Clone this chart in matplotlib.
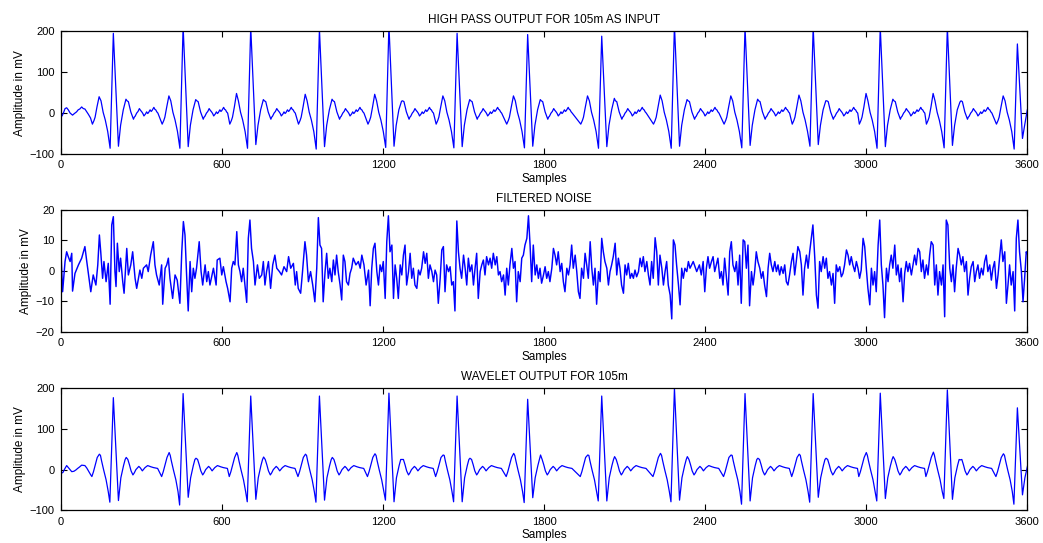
import matplotlib
matplotlib.use("Agg")
import matplotlib.pyplot as plt

# ---------------- data ----------------
# R-peak sample positions (shared by the high-pass and wavelet outputs)
R_POS = [195, 455, 707, 963, 1222, 1476, 1739, 2015, 2286, 2549, 2803, 3053, 3303, 3564]

# High-pass output: per-beat features (mV)
TOP_R = [195, 212, 210, 205, 215, 195, 192, 188, 215, 210, 210, 210, 210, 169]
TOP_P = [40, 42, 48, 46, 46, 42, 42, 42, 44, 42, 44, 48, 48, 42]
TOP_Q = [-86, -86, -86, -88, -84, -85, -85, -86, -86, -85, -81, -86, -85, -88]
TOP_S = [-81, -82, -77, -82, -81, -82, -81, -82, -81, -79, -77, -82, -79, -62]
TOP_T = [34, 33, 33, 34, 29, 33, 33, 36, 33, 34, 30, 34, 27, 27]
# beat shape around each R peak (offset in samples, value in mV; None = per-beat feature)
TOP_OFF = [-78, -72, -68, -61, -53, -46, -38, -30, -21, -12, 0, 19, 27, 37, 47, 51, 56, 65,
           75, 78, 81, 87, 92, 97, 101, 106, 110, 114, 120, 124, 128, 131, 137, 141, 144, 151, 155, 158, 162, 166]
TOP_SHAPE = [-27, -18, -10, 15, None, 30, 2, -17, -45, None, None, None, -30, 8, None, 30, 28, 3,
             -15, -10, -8, 0, 4, 11, 7, 3, -1, -7, -2, 3, -1, 1, 8, 4, 6, 14, 9, 8, 3, 0]
TOP_START_X = [0, 4, 10, 15, 21, 27, 34, 43, 50, 58, 64, 70, 77, 83, 89, 95, 102, 110]
TOP_START_Y = [0, -7, 2, 11, 13, 8, 0, -5, -1, 3, 8, 10, 15, 11, 10, 4, -3, -12]

# Wavelet output: per-beat features (mV)
BOT_R = [177, 187, 181, 181, 188, 181, 173, 181, 200, 187, 187, 188, 196, 152]
BOT_P = [38, 42, 42, 38, 39, 36, 40, 36, 40, 36, 38, 42, 43, 39]
BOT_Q = [-80, -87, -79, -80, -75, -79, -81, -77, -79, -85, -80, -77, -71, -85]
BOT_S = [-76, -68, -73, -75, -79, -79, -69, -77, -75, -77, -68, -71, -73, -62]
BOT_T = [30, 28, 31, 30, 25, 28, 36, 32, 32, 28, 28, 32, 24, 22]
BOT_OFF = [-80, -74, -68, -60, -52, -48, -44, -36, -27, -19, -13, 0, 19, 28, 38, 44, 48, 54, 60, 66,
           73, 78, 84, 95, 101, 108, 118, 128, 140, 150, 165]
BOT_SHAPE = [-17, -5, 10, 30, None, 35, 22, -1, -25, -54, None, None, None, -20, 10, 25, None, 25, 12, -3,
             -13, -8, 0, 8, 4, -3, 5, 10, 7, 5, 3]
BOT_START_X = [0, 7, 14, 21, 30, 40, 48, 55, 62, 68, 77, 89, 96, 102, 110]
BOT_START_Y = [-9, -7, 2, 10, 3, -5, -4, -1, 3, 6, 11, 10, 4, -3, -12]

# Filtered noise (sample, mV)
NOISE_X = [0, 6, 15, 21, 27, 34, 40, 43, 52, 65, 77, 89, 96, 106, 111, 120, 130, 137, 143, 148,
           155, 160, 168, 176, 183, 189, 195, 201, 205, 210, 217, 222, 230, 235, 245, 251, 260, 267, 276, 282,
           294, 301, 307, 319, 325, 334, 344, 350, 356, 366, 375, 379, 388, 394, 400, 406, 416, 425, 433, 443,
           450, 456, 462, 468, 474, 481, 487, 493, 499, 505, 515, 522, 528, 537, 543, 549, 555, 568, 578, 582,
           592, 599, 605, 615, 621, 630, 636, 642, 648, 655, 661, 667, 673, 679, 692, 698, 704, 710, 717, 723,
           732, 739, 748, 754, 760, 766, 773, 781, 789, 797, 804, 814, 822, 831, 841, 848, 856, 866, 873, 878,
           884, 893, 900, 909, 915, 922, 930, 938, 946, 953, 959, 965, 971, 977, 984, 990, 996, 1002, 1009, 1015,
           1021, 1027, 1033, 1040, 1046, 1052, 1058, 1064, 1071, 1077, 1083, 1089, 1099, 1108,
           1115, 1121, 1129, 1137, 1146, 1152, 1158, 1164, 1170, 1177, 1183, 1189, 1195, 1201, 1208, 1214,
           1220, 1226, 1233, 1239, 1245, 1251, 1257, 1264, 1270, 1276, 1282, 1288, 1295, 1301, 1307, 1313,
           1319, 1326, 1332, 1338, 1344, 1351, 1357, 1363, 1369, 1375, 1382, 1388, 1394, 1400, 1406, 1413,
           1419, 1425, 1431, 1437, 1444, 1450, 1456, 1462, 1468, 1475, 1481, 1487, 1493, 1500, 1506, 1512,
           1518, 1524, 1531, 1537, 1543, 1549, 1555, 1562, 1568, 1574, 1580, 1586, 1593, 1599, 1605, 1611,
           1618, 1624, 1630, 1636, 1642, 1649, 1655, 1661, 1667, 1673, 1680, 1686, 1692, 1698, 1704, 1711,
           1717, 1723, 1729, 1736, 1742, 1748, 1754, 1760, 1767, 1773, 1779, 1785, 1791, 1798, 1804, 1810,
           1816, 1822, 1829, 1835, 1841, 1847, 1853, 1860, 1866, 1872, 1878, 1885, 1891, 1897, 1903, 1909,
           1916, 1922, 1928, 1934, 1940, 1947, 1953, 1959, 1965, 1972, 1978, 1984, 1990, 1996, 2003, 2009,
           2015, 2021, 2027, 2034, 2040, 2046, 2052, 2058, 2065, 2071, 2077, 2083, 2089, 2096, 2102, 2108,
           2114, 2121, 2127, 2133, 2139, 2145, 2152, 2158, 2164, 2170, 2176, 2183, 2189, 2195, 2201, 2207,
           2214, 2220, 2226, 2232, 2239, 2245, 2251, 2257, 2263, 2270, 2276, 2282, 2288, 2294, 2301, 2307,
           2313, 2319, 2325, 2332, 2338, 2344, 2356, 2369, 2379,
           2386, 2393, 2399, 2405, 2411, 2417, 2424, 2430, 2436, 2442, 2448, 2455, 2461, 2467, 2473, 2479,
           2486, 2492, 2498, 2504, 2511, 2517, 2523, 2529, 2535, 2542, 2548, 2554, 2560, 2566, 2573, 2579,
           2585, 2591, 2597, 2604, 2610, 2616, 2622, 2629, 2635, 2641, 2647, 2653, 2660, 2666, 2672, 2678,
           2684, 2691, 2697, 2703, 2709, 2715, 2722, 2728, 2734, 2740, 2746, 2753, 2759, 2765, 2771, 2778,
           2784, 2790, 2796, 2802, 2809, 2815, 2821, 2827, 2833, 2840, 2846, 2852, 2858, 2864, 2871, 2877,
           2883, 2889, 2895, 2902, 2908, 2914, 2920, 2927, 2933, 2939, 2945, 2951, 2958, 2964, 2970, 2976,
           2982, 2989, 2995, 3001, 3007, 3014, 3020, 3026, 3032, 3038, 3045, 3051, 3057, 3063, 3069, 3076,
           3082, 3088, 3094, 3100, 3107, 3113, 3119, 3125, 3131, 3138, 3144, 3150, 3156, 3162, 3169, 3175,
           3181, 3187, 3194, 3200, 3206, 3212, 3218, 3225, 3231, 3237, 3243, 3250, 3256, 3262, 3268, 3274,
           3281, 3287, 3293, 3299, 3305, 3312, 3318, 3324, 3330, 3336, 3343, 3349, 3355, 3361, 3367, 3374,
           3380, 3386, 3392, 3399, 3405, 3411, 3417, 3423, 3430, 3436, 3442, 3448, 3454, 3461, 3467, 3473,
           3479, 3486, 3492, 3498, 3504, 3510, 3517, 3523, 3529, 3535, 3541, 3548, 3554, 3560, 3566, 3572,
           3579, 3585, 3591, 3597, 3600]
NOISE_Y = [5.8, -6.8, 3.1, 6.3, 4.7, 3.1, 5.8, -6.6, -0.8, 2.0, 4.2, 8.0, 3.1, -3.5, -6.8, -1.3, -4.6, 2.0, 11.8, 6.3,
           -2.4, 3.1, -3.5, 2.5, -10.9, 15.1, 17.8, -0.2, -5.1, 9.1, -0.2, 4.2, -3.5, -7.3, 7.4, -1.3, 2.0, 6.3, -2.4, -5.7,
           0.3, -2.4, 0.9, 2.0, -0.2, 5.2, 9.6, 2.0, -1.3, -4.6, 2.0, -10.9, 0.9, 2.0, 4.2, -2.4, -9.0, -1.3, -3.0, -10.6,
           6.3, 16.2, 11.8, -1.3, -13.1, 3.1, -6.8, 0.9, -2.4, 0.9, 9.6, -0.2, -4.6, 2.0, -3.5, -0.2, -4.6, 0.9, -4.6, 3.6,
           4.2, -1.3, 1.4, -3.5, -5.7, -10.1, 0.9, 3.1, 2.0, 12.9, 2.0, -0.2, -3.5, 0.9, -10.3, 10.7, 16.7, 7.4, 3.1, -4.6,
           2.0, -2.4, -1.3, 3.1, -4.6, -0.2, 3.1, -5.7, 2.0, 5.2, 0.9, -0.2, -1.3, 1.4, -0.2, 4.7, 0.9, 2.5, -4.6, -0.2,
           -5.7, -7.3, -0.2, 9.6, 5.2, -3.5, -0.2, -4.6, -10.1, 0.9, 17.5, 8.5, 7.4, -10.1, -0.2, 5.8, -2.4, 0.9, -3.5, 3.6,
           -1.3, 5.2, -0.2, -4.6, -9.5, 5.2, 3.1, -3.5, -4.6, -0.8, 0.9, 4.2, 2.0, 3.1,
           0.9, 5.2, 2.0, -4.6, 0.3, -11.4, 0.9, 7.4, 9.1, -0.2, -4.6, 2.0, -0.2, 3.1, -9.0, 9.6,
           18.1, 6.3, 8.5, -9.0, 2.0, -2.4, -9.0, 2.0, -1.3, 5.2, 8.5, -4.6, -0.2, 5.8, -2.4, 0.9,
           -4.6, -5.7, 0.3, -1.3, 0.9, 6.3, 2.5, 5.8, -2.4, 2.0, -0.2, -3.5, 0.3, -1.3, -10.6, -2.4,
           6.9, 8.0, -6.8, 2.0, -0.2, 1.4, -4.6, -3.5, -13.1, 16.4, 6.3, 0.9, -2.4, 5.2, 0.9, -4.6,
           4.2, -0.2, 2.0, -4.6, 0.9, 5.8, -9.0, -0.2, 2.0, 3.6, -1.3, 4.7, 2.0, 4.2, 0.9, 5.8,
           2.0, 4.7, -1.3, -0.2, -3.5, -1.3, -7.9, 0.9, -4.6, 2.0, 7.4, 0.9, 3.1, -10.1, -0.2, -3.5,
           4.2, 5.2, 8.5, 10.7, 18.1, 8.5, -3.5, 8.5, -1.3, 2.0, -2.4, 0.9, -4.0, -1.3, 1.4, -2.4,
           -0.2, -3.5, 0.9, 7.4, 5.2, 2.0, 6.3, -0.2, 2.5, -3.5, -6.8, 0.9, -1.3, 2.0, 8.5, 0.9,
           5.2, -0.2, -6.8, -9.0, 0.9, -2.4, 5.8, 2.0, -2.4, 9.6, 0.9, -4.6, 0.9, -10.9, -0.2, -3.5,
           10.7, 6.3, 3.1, 0.9, -4.6, -0.2, 2.0, 4.7, 9.1, -1.3, 4.2, 0.9, -4.6, -7.3, 2.0, -1.3,
           2.5, -2.4, -0.8, -2.4, 0.3, -1.9, -0.2, 4.2, 1.4, 4.7, -0.2, 3.1, -1.3, -4.6, 3.1, -2.4,
           10.9, 6.3, -4.6, 5.2, 0.9, -4.6, -0.2, 3.1, -4.6, -7.9, -15.7, 10.2, 8.5, 2.0, -4.6, -11.1,
           0.9, -2.4, 0.9, -0.2, 3.1, 0.9, 3.1, -0.2, 2.0,
           -1.3, 3.1, -6.8, 0.9, 4.7, 0.9, 3.1, 4.7, -0.2, 2.0, 4.2, -2.4, -0.2, -4.6, 4.2, -1.3,
           -7.9, 6.3, 9.6, 2.0, -0.2, 3.1, -4.6, 5.2, -10.6, 10.2, 9.6, 0.9, 8.5, -11.4, -0.2, -4.6,
           -0.2, 6.3, 3.1, 0.9, -2.4, -0.2, -4.6, -8.4, 0.9, 5.8, 2.0, -0.2, 3.1, -0.2, 2.0, -1.3,
           1.4, -0.8, 2.0, -3.5, -4.6, -1.3, 3.1, 5.8, -1.3, 3.1, 8.0, 6.3, 2.0, -7.9, 0.9, 5.2,
           0.9, 6.3, 10.7, 15.1, 4.2, -7.9, -12.2, 3.1, -0.2, 4.7, 0.9, 4.2, -2.4, -0.2, -4.6, -0.8,
           -10.6, 2.0, -0.2, 1.4, -1.9, -0.8, 2.0, 6.9, 5.2, 2.0, 4.7, 2.0, -0.2, 3.1, 0.9, -2.4,
           0.3, 10.7, 8.0, 0.9, -5.7, -11.1, 0.9, -4.6, -0.2, -6.8, 8.5, 16.7, 2.0, -4.6, -15.3, 0.9,
           -3.5, 2.0, 5.2, 0.9, 8.5, -1.3, 2.0, -3.5, 0.9, -10.1, -0.8, 3.1, -0.2, 2.5, -1.3, 2.0,
           5.2, 2.0, 7.4, 6.3, -0.2, 3.6, -2.4, 2.0, -1.3, 5.2, 9.6, 8.5, -4.6, 2.0, -7.9, -0.2,
           -4.6, 2.0, -15.0, 16.7, 15.1, 0.9, -3.5, 2.0, -6.8, 0.9, 7.4, 5.2, 2.0, 4.7, -0.2, 3.1,
           -7.9, -2.4, 1.4, 3.1, -3.5, -0.2, 2.0, -2.4, 0.9, -1.3, 3.1, 5.2, -0.2, 2.0, -3.0, 0.9,
           3.1, -5.7, -1.3, 4.7, 10.2, 3.1, 6.3, -10.6, -4.6, 2.0, -4.6, -0.2, -13.1, 10.7, 16.7, 6.3,
           -0.2, -10.1, -2.4, 6.3, 5.8]

X_TICKS = [0, 600, 1200, 1800, 2400, 3000, 3600]
ECG_YTICKS = [-100, 0, 100, 200]
NOISE_YTICKS = [-20, -10, 0, 10, 20]
TITLES = ["HIGH PASS OUTPUT FOR 105m AS INPUT", "FILTERED NOISE", "WAVELET OUTPUT FOR 105m"]
X_LABEL = "Samples"
Y_LABEL = "Amplitude in mV"


def assemble(start_x, start_y, offsets, shape, idx, feats):
    """Place the read beat shape at each R peak with that beat's read features."""
    xs, ys = list(start_x), list(start_y)
    for b, r in enumerate(R_POS):
        vals = list(shape)
        for k, f in zip(idx, feats):
            vals[k] = f[b]
        xs += [r + o for o in offsets]
        ys += vals
    return xs, ys


top_x, top_y = assemble(TOP_START_X, TOP_START_Y, TOP_OFF, TOP_SHAPE, [4, 9, 10, 11, 14],
                        [TOP_P, TOP_Q, TOP_R, TOP_S, TOP_T])
bot_x, bot_y = assemble(BOT_START_X, BOT_START_Y, BOT_OFF, BOT_SHAPE, [4, 10, 11, 12, 16],
                        [BOT_P, BOT_Q, BOT_R, BOT_S, BOT_T])

plt.rcParams['font.family'] = ['Liberation Sans', 'DejaVu Sans']
fig = plt.figure(figsize=(10.43, 5.43), dpi=100)

boxes = [(0.0585, 0.7164, 0.9262, 0.2260),
         (0.0585, 0.3886, 0.9262, 0.2247),
         (0.0585, 0.0602, 0.9262, 0.2247)]
series = [(top_x, top_y), (NOISE_X, NOISE_Y), (bot_x, bot_y)]
ylims = [(-100, 200), (-20, 20), (-100, 200)]
yticks = [ECG_YTICKS, NOISE_YTICKS, ECG_YTICKS]
widths = [0.9, 1.05, 0.9]

for box, (sx, sy), yl, yt, title, lw in zip(boxes, series, ylims, yticks, TITLES, widths):
    ax = fig.add_axes(box)
    ax.plot(sx, sy, color=(0, 0, 1), lw=lw)
    ax.set_xlim(0, 3600)
    ax.set_ylim(*yl)
    ax.set_xticks(X_TICKS)
    ax.set_yticks(yt)
    ax.tick_params(direction='in', top=True, right=True, length=4, width=0.8,
                   labelsize=8, pad=4.5, colors='black')
    for sp in ax.spines.values():
        sp.set_linewidth(0.9)
    ax.set_title(title, fontsize=8.5, pad=6)
    ax.set_xlabel(X_LABEL, fontsize=8.5, labelpad=2)
    ax.set_ylabel(Y_LABEL, fontsize=8.5, labelpad=3)

fig.savefig("out.png", dpi=100)
